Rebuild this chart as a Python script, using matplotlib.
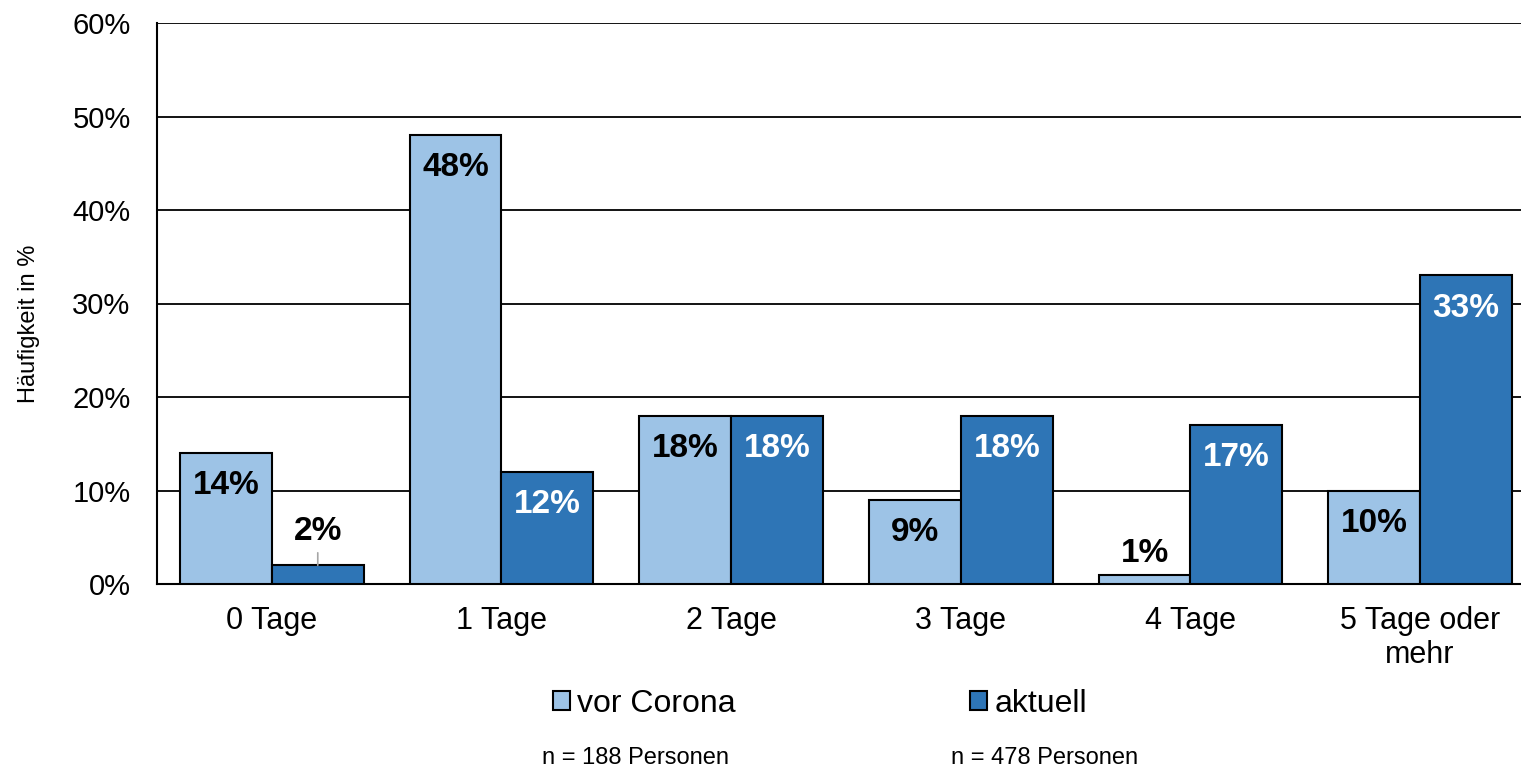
import numpy as np
import matplotlib.pyplot as plt

plt.rcParams['font.family'] = ['Liberation Sans', 'DejaVu Sans']

# data
categories = ["0 Tage", "1 Tage", "2 Tage", "3 Tage", "4 Tage", "5 Tage oder\nmehr"]
vor_corona = [14, 48, 18, 9, 1, 10]
aktuell = [2, 12, 18, 18, 17, 33]
series_names = ["vor Corona", "aktuell"]
n_labels = ["n = 188 Personen", "n = 478 Personen"]
yticks = [0, 10, 20, 30, 40, 50, 60]

light = '#9DC3E6'
dark = '#2E75B6'

fig = plt.figure(figsize=(15.21, 7.67), dpi=100)
# plot area runs a little past the right edge of the picture, as in the original
ax = fig.add_axes([157/1521, 1 - 584/767, 1378/1521, 561/767])

x = np.arange(len(categories))
w = 0.40
b1 = ax.bar(x - w/2, vor_corona, w, color=light, edgecolor='black', linewidth=1.5, zorder=3, label=series_names[0])
b2 = ax.bar(x + w/2, aktuell, w, color=dark, edgecolor='black', linewidth=1.5, zorder=3, label=series_names[1])

def label_bars(bars, vals, txtcolor):
    for rect, v in zip(bars, vals):
        cx = rect.get_x() + rect.get_width()/2
        if v >= 5:
            ax.annotate(f"{v}%", (cx, v), xytext=(0, -23.5), textcoords='offset points',
                        ha='center', va='center', fontsize=24, fontweight='bold',
                        color=txtcolor, zorder=5)
        else:
            off = 24 if v >= 2 else 15
            ax.annotate(f"{v}%", (cx, v), xytext=(0, off), textcoords='offset points',
                        ha='center', va='center', fontsize=24, fontweight='bold',
                        color='black', zorder=5)
            if v >= 2:
                ax.annotate("", (cx, v), xytext=(0, 9), textcoords='offset points',
                            arrowprops=dict(arrowstyle='-', color='#A6A6A6', lw=1.2,
                                            shrinkA=0, shrinkB=0), zorder=4)

label_bars(b1, vor_corona, 'black')
label_bars(b2, aktuell, 'white')

ax.set_xlim(-0.5, len(categories) - 0.5)
ax.set_ylim(0, 60)
ax.set_yticks(yticks)
ax.set_yticklabels([f"{t}%" for t in yticks])
ax.set_xticks(x)
ax.set_xticklabels(categories, linespacing=1.17)
ax.yaxis.grid(True, color='black', linewidth=1.3, zorder=0)
ax.set_axisbelow(True)
ax.tick_params(axis='y', length=0, pad=19, labelsize=21)
ax.tick_params(axis='x', length=0, pad=16, labelsize=22)
for s in ['top', 'right']:
    ax.spines[s].set_visible(False)
ax.spines['left'].set_linewidth(1.5)
ax.spines['bottom'].set_linewidth(1.5)

ax.set_ylabel("Häufigkeit in %", fontsize=17)
ax.yaxis.set_label_coords(-0.085, 0.4635)

fig.legend(loc='center', bbox_to_anchor=(820/1521, 1 - 704/767), ncol=2, frameon=False,
           fontsize=23, handlelength=0.53, handleheight=0.53, handletextpad=0.22,
           columnspacing=7.35)

fig.text(635/1521, 1 - 758/767, n_labels[0], ha='center', va='center', fontsize=17)
fig.text(1045/1521, 1 - 758/767, n_labels[1], ha='center', va='center', fontsize=17)

fig.savefig('out.png', dpi=100)
